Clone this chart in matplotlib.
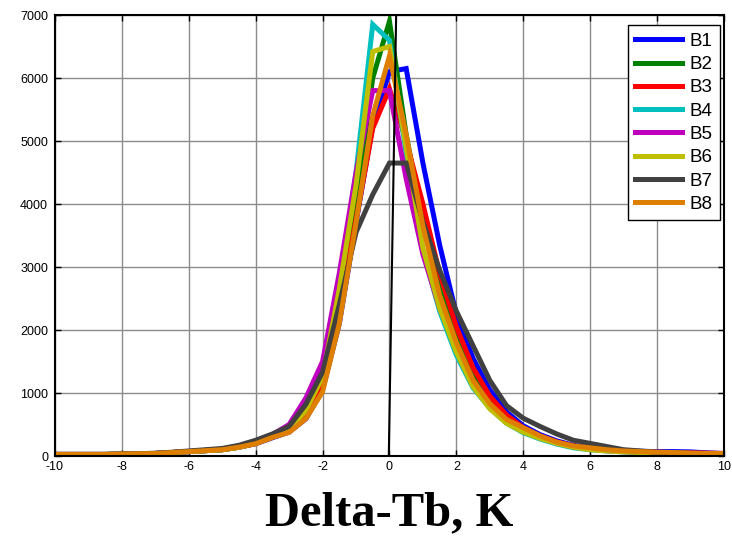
import numpy as np
import matplotlib
matplotlib.use("Agg")
import matplotlib.pyplot as plt

# histogram bin centres, -10..10 step 0.5
bins = np.arange(-10, 10.5, 0.5)

# counts per band
b1 = [25, 25, 25, 25, 30, 35, 40, 55, 70, 85, 100, 140, 195, 290, 380, 590, 1050, 2100, 3700, 5250,
      6100, 6150, 4650, 3350, 2250, 1550, 1050, 700, 480, 340, 240, 170, 130, 100, 85, 75, 70, 70, 65, 50, 40]
b2 = [25, 25, 25, 25, 30, 35, 40, 55, 70, 85, 100, 140, 200, 300, 400, 650, 1200, 2400, 4000, 6000,
      6900, 5100, 3700, 2650, 1900, 1300, 880, 600, 420, 300, 210, 150, 115, 90, 75, 65, 55, 50, 45, 40, 35]
b3 = [25, 25, 25, 25, 30, 35, 40, 55, 70, 85, 100, 140, 200, 300, 400, 650, 1150, 2300, 3750, 5200,
      5830, 5000, 4000, 2900, 2050, 1400, 950, 650, 450, 320, 225, 160, 120, 95, 80, 70, 60, 55, 50, 45, 40]
b4 = [25, 25, 25, 25, 30, 35, 40, 55, 70, 85, 100, 140, 210, 310, 430, 800, 1400, 2700, 4500, 6850,
      6600, 4800, 3250, 2300, 1600, 1080, 760, 520, 370, 270, 190, 130, 100, 80, 65, 55, 50, 45, 40, 35, 30]
b5 = [25, 25, 25, 25, 30, 35, 40, 55, 70, 90, 110, 160, 240, 340, 500, 920, 1500, 2900, 4500, 5800,
      5800, 4400, 3200, 2350, 1750, 1200, 820, 560, 400, 290, 205, 145, 110, 85, 70, 60, 55, 50, 45, 40, 35]
b6 = [25, 25, 25, 25, 30, 35, 40, 55, 70, 85, 100, 140, 210, 310, 420, 720, 1250, 2650, 4300, 6420,
      6500, 4900, 3300, 2350, 1650, 1100, 750, 520, 380, 280, 200, 140, 100, 80, 65, 55, 50, 45, 40, 35, 30]
b7 = [25, 25, 25, 25, 30, 35, 45, 60, 80, 100, 120, 170, 250, 350, 470, 820, 1330, 2400, 3550, 4150,
      4650, 4650, 3720, 2950, 2300, 1750, 1200, 800, 600, 470, 350, 250, 200, 150, 100, 80, 60, 50, 40, 35, 30]
b8 = [25, 25, 25, 25, 30, 35, 40, 55, 70, 85, 100, 140, 195, 295, 375, 590, 1020, 2100, 3700, 5400,
      6350, 5100, 3650, 2550, 1800, 1200, 830, 580, 450, 320, 220, 160, 130, 100, 80, 70, 60, 55, 45, 40, 40]

series = [b1, b2, b3, b4, b5, b6, b7, b8]
names = ['B1', 'B2', 'B3', 'B4', 'B5', 'B6', 'B7', 'B8']
colors = ['#0000ff', '#008000', '#ff0000', '#00bfbf', '#bf00bf', '#bfbf00', '#404040', '#de7f00']

# thin black marker line near zero
ref_x = [-0.02, 0.2]
ref_y = [0, 7000]

plt.rcParams['font.family'] = ['Liberation Sans', 'DejaVu Sans']
plt.rcParams['axes.unicode_minus'] = False

fig = plt.figure(figsize=(7.32, 5.38), dpi=100)
ax = fig.add_axes([0.0751, 0.1524, 0.9139, 0.8197])

for vals, name, col in zip(series, names, colors):
    ax.plot(bins, vals, color=col, lw=3.6, label=name, solid_joinstyle='miter')
ax.plot(ref_x, ref_y, color='black', lw=1.5)

ax.set_xlim(-10, 10)
ax.set_ylim(0, 7000)
ax.set_xticks(np.arange(-10, 11, 2))
ax.set_yticks(np.arange(0, 7001, 1000))
ax.grid(True, color='#8c8c8c', lw=1.0)
ax.set_axisbelow(True)
ax.tick_params(direction='in', top=True, right=True, labelsize=9, length=4, width=1)
ax.tick_params(axis='y', pad=5)
for s in ax.spines.values():
    s.set_linewidth(1.5)

ax.set_xlabel('Delta-Tb, K', family=['Liberation Serif', 'DejaVu Serif'],
              fontsize=35, fontweight='bold', labelpad=13)

leg = ax.legend(loc='upper right', bbox_to_anchor=(0.994, 0.977), borderaxespad=0,
                fancybox=False, edgecolor='black', framealpha=1, fontsize=13.5,
                handlelength=2.5, handletextpad=0.4, labelspacing=0.33, borderpad=0.4)
leg.get_frame().set_linewidth(1.0)

fig.savefig('out.png', dpi=100)
